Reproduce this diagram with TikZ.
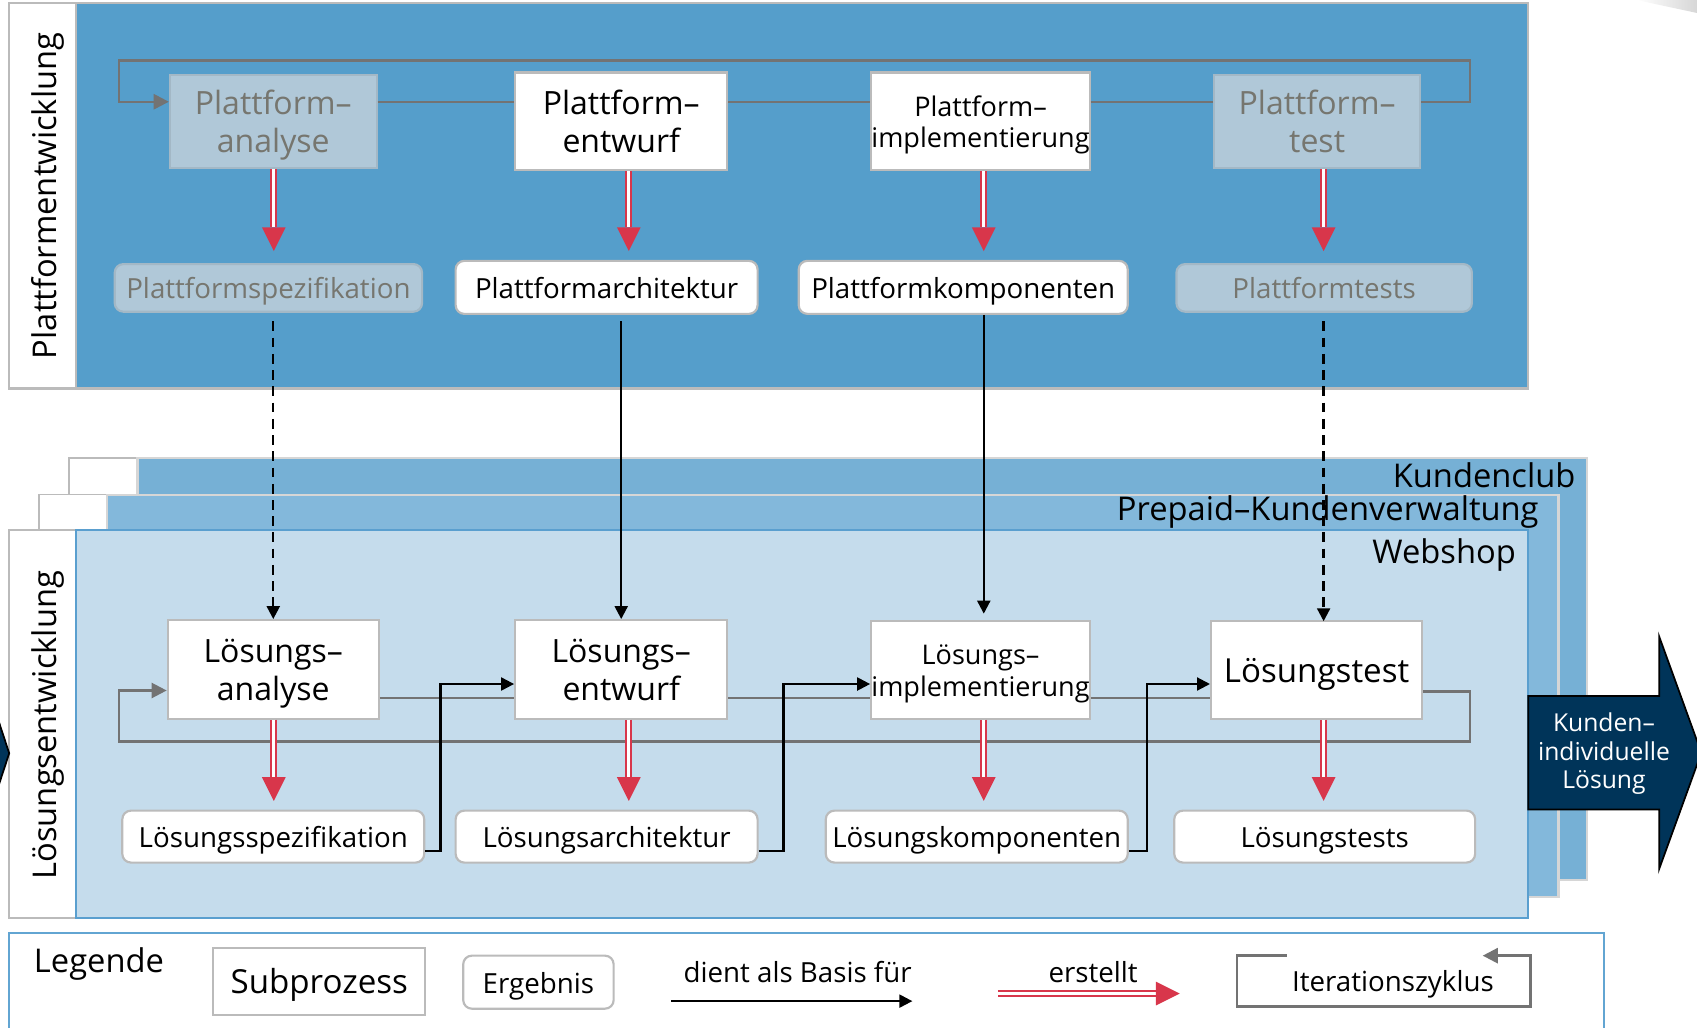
\documentclass[tikz,border=0pt]{standalone}
\usepackage{fontspec}
\setmainfont{Open Sans}
\usetikzlibrary{arrows.meta,calc}

\definecolor{platblue}{HTML}{559ECB}
\definecolor{clubblue}{HTML}{76B0D5}
\definecolor{prepblue}{HTML}{83B8DB}
\definecolor{shopblue}{HTML}{C5DCEC}
\definecolor{shopline}{HTML}{5A9FCF}
\definecolor{boxline}{HTML}{BBBBBB}
\definecolor{layerline}{HTML}{D6D6D6}
\definecolor{greyfill}{HTML}{B0C8D8}
\definecolor{greyedge}{HTML}{A3B8C6}
\definecolor{greytext}{HTML}{76766F}
\definecolor{iterline}{HTML}{737373}
\definecolor{erstred}{HTML}{D8364B}
\definecolor{navyarrow}{HTML}{003459}
\definecolor{legline}{HTML}{62A5D2}

\newcommand\fntbig{\fontsize{14.8}{17.5}\selectfont}
\newcommand\fntmid{\fontsize{12.5}{14.5}\selectfont}
\newcommand\fntsmall{\fontsize{12.8}{15}\selectfont}
\newcommand\fntlabel{\fontsize{15.1}{18}\selectfont}
\newcommand\fntarrow{\fontsize{11.4}{13.3}\selectfont}

% centred text block, set slightly below the optical centre of its box
\newcommand\bt[1]{\raisebox{-2pt}[\height][\depth]{\begin{tabular}{@{}c@{}}#1\end{tabular}}}

% "erstellt" arrow: red double shaft with a solid red head
\newcommand\erstellt[2]{%
  \path (#1) coordinate (ea) (#2) coordinate (eb);
  \coordinate (ec) at ($(eb)!11pt!(ea)$);
  \draw[erstshaft] (ea) -- (ec);
  \fill[erstred] ($(ec)!5.5pt!90:(eb)$) -- (eb) -- ($(ec)!5.5pt!-90:(eb)$) -- cycle;
}

\begin{document}
\begin{tikzpicture}[x=0.5pt,y=-0.5pt,
  subproc/.style={draw=boxline, line width=1pt, fill=white,
    inner sep=0pt, font=\fntbig},
  subgrey/.style={subproc, fill=greyfill, draw=greyedge, text=greytext},
  result/.style={draw=boxline, line width=1pt, fill=white, rounded corners=4pt,
    inner sep=0pt, font=\fntsmall},
  resgrey/.style={result, fill=greyfill, draw=greyedge, text=greytext},
  lanelabel/.style={rotate=90, inner sep=0pt, font=\fntlabel},
  layerlabel/.style={anchor=east, inner sep=0pt, font=\fntlabel},
  basis/.style={line width=1pt, -{Triangle[length=6pt,width=6pt]}},
  basisdash/.style={basis, line width=1.1pt, dash pattern=on 4.5pt off 3pt},
  iter/.style={draw=iterline, line width=1.1pt},
  iterarrow/.style={iter, -{Triangle[length=7pt,width=7pt]}},
  erstshaft/.style={draw=erstred, line width=0.9pt, double=white, double distance=1.3pt},
]
\useasboundingbox (0,0) rectangle (1568,949);
\clip (0,0) rectangle (1568,949);

% ---------- Plattformentwicklung ----------
\draw[boxline, line width=1pt, fill=white] (8,3) rectangle (70,359);
\draw[boxline, line width=1pt, fill=platblue] (70,3) rectangle (1412,359);
\node[lanelabel] (lanep) at (41,181) {\bt{Plattformentwicklung}};

\node[subgrey, minimum width=95.5pt, minimum height=43pt] (pana) at (252.5,112) {\bt{Plattform–\\analyse}};
\node[subproc, minimum width=98pt, minimum height=45pt] (pent) at (574,112) {\bt{Plattform–\\entwurf}};
\node[subproc, font=\fntmid, minimum width=101pt, minimum height=45pt] (pimp) at (906,112) {\bt{Plattform–\\implementierung}};
\node[subgrey, minimum width=95pt, minimum height=43pt] (ptest) at (1217,112) {\bt{Plattform–\\test}};

\node[resgrey, minimum width=142pt, minimum height=22pt] (pspec) at (248,266) {\bt{Plattformspezifikation}};
\node[result, minimum width=139.5pt, minimum height=24.5pt] (parch) at (560.5,265.5) {\bt{Plattformarchitektur}};
\node[result, minimum width=152pt, minimum height=24.5pt] (pkomp) at (890,265.5) {\bt{Plattformkomponenten}};
\node[resgrey, minimum width=136.5pt, minimum height=22pt] (ptests) at (1223.5,266) {\bt{Plattformtests}};

% iteration cycle of the platform
\coordinate (pl) at (110,56);
\coordinate (pr) at (1358,56);
\draw[iterarrow] (ptest.east |- 0,94) -- (pr |- 0,94) -- (pr) -- (pl) -- (pl |- 0,94) -- (pana.west |- 0,94);
\draw[iter] (pana.east |- 0,94) -- (pent.west |- 0,94);
\draw[iter] (pent.east |- 0,94) -- (pimp.west |- 0,94);
\draw[iter] (pimp.east |- 0,94) -- (ptest.west |- 0,94);

% ---------- stacked solution layers ----------
\draw[boxline, line width=0.8pt, fill=white] (64,423) rectangle (127,813);
\draw[layerline, line width=1pt, fill=clubblue] (127,423) rectangle (1466,813);
\node[layerlabel] (lclub) at (1456,439) {Kundenclub};

\draw[boxline, line width=0.8pt, fill=white] (36,457) rectangle (99,829);
\draw[layerline, line width=1pt, fill=prepblue] (99,457) rectangle (1440,829);
\node[layerlabel] (lprep) at (1422,473) {Prepaid–Kundenverwaltung};

\draw[boxline, line width=1pt, fill=white] (8,490) rectangle (70,848);
\draw[shopline, line width=1pt, fill=shopblue] (70,490) rectangle (1412,848);
\node[layerlabel] (lshop) at (1401,513) {Webshop};
\node[lanelabel] (lanel) at (41,670) {\bt{Lösungsentwicklung}};

\node[subproc, minimum width=97.5pt, minimum height=45.5pt] (lana) at (252.5,618.5) {\bt{Lösungs–\\analyse}};
\node[subproc, minimum width=98pt, minimum height=45.5pt] (lent) at (574,618.5) {\bt{Lösungs–\\entwurf}};
\node[subproc, font=\fntmid, minimum width=101pt, minimum height=45pt] (limp) at (906,619) {\bt{Lösungs–\\implementierung}};
\node[subproc, font=\fontsize{15.3}{18}\selectfont, minimum width=97.5pt, minimum height=45pt] (ltest) at (1216.5,619) {\bt{Lösungstest}};

\node[result, minimum width=139.5pt, minimum height=24pt] (lspec) at (252.5,773) {\bt{Lösungsspezifikation}};
\node[result, minimum width=139.5pt, minimum height=24pt] (larch) at (560.5,773) {\bt{Lösungsarchitektur}};
\node[result, minimum width=139.5pt, minimum height=24pt] (lkomp) at (902.5,773) {\bt{Lösungskomponenten}};
\node[result, minimum width=139pt, minimum height=24pt] (ltests) at (1224,773) {\bt{Lösungstests}};

% iteration cycle of the solution
\coordinate (sl) at (110,685);
\coordinate (sr) at (1358,685);
\draw[iterarrow] (ltest.east |- 0,639) -- (sr |- 0,639) -- (sr) -- (sl) -- (sl |- 0,638) -- (lana.west |- 0,638);
\draw[iter] (lana.east |- 0,645) -- (lent.west |- 0,645);
\draw[iter] (lent.east |- 0,645) -- (limp.west |- 0,645);
\draw[iter] (limp.east |- 0,645) -- (ltest.west |- 0,645);

% ---------- erstellt ----------
\coordinate (r1) at (253,232);
\coordinate (r2) at (581,232);
\coordinate (r3) at (909,232);
\coordinate (r4) at (1223,232);
\erstellt{r1 |- pana.south}{r1}
\erstellt{r2 |- pent.south}{r2}
\erstellt{r3 |- pimp.south}{r3}
\erstellt{r4 |- ptest.south}{r4}
\coordinate (s1) at (253,740);
\coordinate (s2) at (581,740);
\coordinate (s3) at (909,740);
\coordinate (s4) at (1223,740);
\erstellt{s1 |- lana.south}{s1}
\erstellt{s2 |- lent.south}{s2}
\erstellt{s3 |- limp.south}{s3}
\erstellt{s4 |- ltest.south}{s4}

% ---------- dient als Basis fuer ----------
\draw[basisdash, shorten <=4pt] (lana.north |- pspec.south) -- (lana.north);
\draw[basis, shorten <=3pt] (lent.north |- parch.south) -- (lent.north);
\coordinate (k3) at (909,567);
\draw[basis] (k3 |- pkomp.south) -- (k3);
\coordinate (k4) at (1223,574);
\draw[basisdash, shorten <=4pt] (k4 |- ptests.south) -- (k4);

\coordinate (b1) at (407,632);
\coordinate (b2) at (724,632);
\coordinate (b3) at (1060,632);
\draw[basis] (lspec.east |- 0,786) -| (b1) -- (b1 -| lent.west);
\draw[basis] (larch.east |- 0,786) -| (b2) -- (b2 -| limp.west);
\draw[basis] (lkomp.east |- 0,786) -| (b3) -- (b3 -| ltest.west);

% ---------- outcome arrows ----------
\filldraw[fill=navyarrow, draw=black, line width=0.8pt]
  (1412,643) -- (1533,643) -- (1533,588) -- (1572,695.5) -- (1533,803) -- (1533,748) -- (1412,748) -- cycle;
\node[text=white, inner sep=0pt, font=\fntarrow] (kil) at (1482,693) {\bt{Kunden–\\individuelle\\Lösung}};
\filldraw[fill=navyarrow, draw=black, line width=0.8pt] (-2,664) -- (8.5,696) -- (-2,728) -- cycle;
\shade[left color=white, right color=black!16] (1512,0) -- (1568,0) -- (1568,12) -- cycle;

% ---------- Legende ----------
\draw[legline, line width=1pt, fill=white] (8,862) rectangle (1482,965);
\node[anchor=west, inner sep=0pt, font=\fntlabel] (legt) at (31,887) {\bt{Legende}};
\node[subproc, font=\fontsize{15.3}{18}\selectfont, minimum width=98pt, minimum height=31pt] (legsub) at (295,907) {\bt{Subprozess}};
\node[result, minimum width=69.5pt, minimum height=24.5pt] (legerg) at (497.5,907.5) {\bt{Ergebnis}};
\node[inner sep=0pt, font=\fntsmall] (legbas) at (737,898) {\bt{dient als Basis für}};
\coordinate (lb1) at (620,925);
\coordinate (lb2) at (843,925);
\draw[basis] (lb1) -- (lb2);
\node[inner sep=0pt, font=\fntsmall] (legers) at (1010,898) {\bt{erstellt}};
\coordinate (le1) at (922,918);
\coordinate (le2) at (1090,918);
\erstellt{le1}{le2}
\node[inner sep=0pt, font=\fntsmall] (legit) at (1287,906) {\bt{Iterationszyklus}};
\coordinate (li1) at (1189,883);
\coordinate (li2) at (1143,930);
\coordinate (li3) at (1414,930);
\draw[iterarrow] (li1) -- (li1 -| li2) -- (li2) -- (li3) -- (li3 |- li1) -- (1370,883);
\end{tikzpicture}
\end{document}
